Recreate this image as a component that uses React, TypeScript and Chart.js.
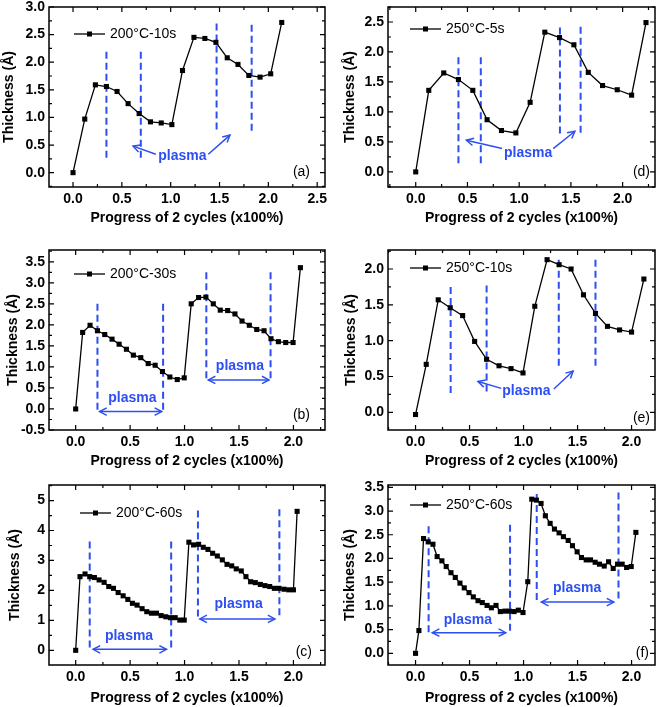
import React, { useEffect, useRef } from 'react';
import { Chart, registerables } from 'chart.js';

Chart.register(...registerables);

const FONT = '"Liberation Sans", Arial, Helvetica, sans-serif';
const BLUE = '#2d4ff2';
const X_TITLE = 'Progress of 2 cycles (x100%)';
const Y_TITLE = 'Thickness (Å)';

// ---------- (a) 200°C-10s ----------
const xA = [0, 0.12, 0.229, 0.342, 0.451, 0.564, 0.677, 0.793, 0.903, 1.012, 1.121, 1.238, 1.35, 1.463, 1.579, 1.689, 1.8, 1.915, 2.024, 2.137];
const yA = [0, 0.97, 1.59, 1.56, 1.47, 1.25, 1.07, 0.92, 0.9, 0.87, 1.85, 2.45, 2.43, 2.36, 2.08, 1.96, 1.76, 1.73, 1.79, 2.72];
const dashXA = [0.342, 0.694, 1.47, 1.829];
const dashTopA = [2.19, 2.19, 2.7, 2.68];
const dashBotA = [0.22, 0.25, 0.73, 0.71];
const arrowsA = [[0.848, 0.333, 0.615, 0.48], [1.385, 0.333, 1.607, 0.68]];
const textA = [[1.12, 0.236]];

// ---------- (b) 200°C-30s ----------
const xB = [0, 0.064, 0.132, 0.2, 0.267, 0.334, 0.399, 0.466, 0.53, 0.598, 0.666, 0.73, 0.797, 0.865, 0.933, 0.997, 1.061, 1.129, 1.196, 1.264, 1.328, 1.396, 1.463, 1.528, 1.595, 1.663, 1.73, 1.794, 1.862, 1.929, 1.997, 2.064];
const yB = [0, 1.82, 1.99, 1.86, 1.77, 1.66, 1.54, 1.42, 1.28, 1.22, 1.08, 1.04, 0.89, 0.76, 0.7, 0.74, 2.5, 2.65, 2.66, 2.5, 2.35, 2.34, 2.26, 2.09, 1.99, 1.89, 1.86, 1.67, 1.6, 1.58, 1.58, 3.36];
const dashXB = [0.2, 0.803, 1.2, 1.79];
const dashTopB = [2.5, 2.5, 3.25, 3.25];
const dashBotB = [-0.08, -0.08, 0.69, 0.69];
const arrowsB = [[0.22, -0.063, 0.79, -0.063], [1.218, 0.69, 1.776, 0.69]];
const textB = [[0.521, 0.158], [1.509, 0.935]];

// ---------- (c) 200°C-60s ----------
const xC = [0, 0.04, 0.086, 0.129, 0.172, 0.215, 0.261, 0.304, 0.347, 0.39, 0.436, 0.479, 0.521, 0.564, 0.61, 0.653, 0.696, 0.742, 0.785, 0.828, 0.871, 0.914, 0.957, 0.997, 1.04, 1.083, 1.129, 1.172, 1.215, 1.258, 1.301, 1.347, 1.39, 1.433, 1.475, 1.521, 1.564, 1.607, 1.65, 1.696, 1.739, 1.782, 1.825, 1.868, 1.914, 1.957, 2.0, 2.034];
const yC = [0, 2.46, 2.55, 2.46, 2.43, 2.35, 2.27, 2.13, 2.07, 1.93, 1.82, 1.7, 1.57, 1.51, 1.39, 1.29, 1.24, 1.24, 1.16, 1.12, 1.09, 1.09, 1.01, 1.01, 3.61, 3.52, 3.54, 3.44, 3.37, 3.24, 3.15, 3.02, 2.87, 2.82, 2.72, 2.65, 2.46, 2.29, 2.26, 2.2, 2.16, 2.13, 2.07, 2.07, 2.04, 2.02, 2.02, 4.64];
const dashXC = [0.129, 0.877, 1.123, 1.871];
const dashTopC = [3.63, 3.63, 4.67, 4.71];
const dashBotC = [0.01, 0.01, 1.07, 1.1];
const arrowsC = [[0.16, 0.033, 0.834, 0.033], [1.14, 1.05, 1.83, 1.05]];
const textC = [[0.49, 0.345], [1.497, 1.425]];

// ---------- (d) 250°C-5s ----------
const xD = [0, 0.126, 0.271, 0.413, 0.552, 0.69, 0.829, 0.968, 1.106, 1.248, 1.39, 1.529, 1.668, 1.806, 1.948, 2.087, 2.226];
const yD = [0, 1.36, 1.65, 1.54, 1.36, 0.87, 0.69, 0.65, 1.16, 2.33, 2.24, 2.12, 1.66, 1.44, 1.37, 1.28, 2.49];
const dashXD = [0.413, 0.629, 1.394, 1.594];
const dashTopD = [1.91, 1.91, 2.41, 2.42];
const dashBotD = [0.1, 0.12, 0.61, 0.61];
const arrowsD = [[0.835, 0.389, 0.49, 0.528], [1.329, 0.389, 1.539, 0.678]];
const textD = [[1.087, 0.25]];

// ---------- (e) 250°C-10s ----------
const xE = [0, 0.099, 0.21, 0.321, 0.436, 0.547, 0.658, 0.773, 0.884, 0.995, 1.104, 1.218, 1.329, 1.44, 1.555, 1.666, 1.777, 1.889, 2.0, 2.114];
const yE = [-0.03, 0.67, 1.57, 1.46, 1.35, 0.99, 0.74, 0.65, 0.61, 0.55, 1.48, 2.13, 2.06, 2.0, 1.64, 1.38, 1.2, 1.15, 1.12, 1.86];
const dashXE = [0.325, 0.658, 1.326, 1.666];
const dashTopE = [1.75, 1.77, 2.13, 2.13];
const dashBotE = [0.24, 0.265, 0.62, 0.62];
const arrowsE = [[0.794, 0.335, 0.578, 0.43], [1.28, 0.326, 1.459, 0.577]];
const textE = [[1.026, 0.242]];

// ---------- (f) 250°C-60s ----------
const xF = [0, 0.031, 0.074, 0.117, 0.161, 0.2, 0.244, 0.284, 0.328, 0.368, 0.411, 0.451, 0.495, 0.535, 0.578, 0.618, 0.662, 0.702, 0.745, 0.785, 0.828, 0.869, 0.912, 0.952, 0.995, 1.039, 1.076, 1.119, 1.162, 1.202, 1.246, 1.286, 1.329, 1.369, 1.413, 1.453, 1.496, 1.536, 1.58, 1.62, 1.663, 1.703, 1.747, 1.787, 1.83, 1.87, 1.913, 1.954, 1.997, 2.04];
const yF = [0, 0.48, 2.42, 2.35, 2.3, 2.04, 1.95, 1.83, 1.7, 1.6, 1.48, 1.38, 1.28, 1.19, 1.11, 1.07, 1.01, 0.96, 1.01, 0.88, 0.89, 0.89, 0.88, 0.91, 0.86, 1.51, 3.25, 3.23, 3.16, 2.9, 2.74, 2.62, 2.54, 2.46, 2.38, 2.27, 2.14, 2.02, 1.97, 1.97, 1.92, 1.88, 1.84, 1.93, 1.79, 1.88, 1.88, 1.81, 1.83, 2.55];
const dashXF = [0.121, 0.875, 1.122, 1.879];
const dashTopF = [2.68, 2.71, 3.36, 3.39];
const dashBotF = [0.4, 0.42, 1.08, 1.1];
const arrowsF = [[0.155, 0.436, 0.835, 0.436], [1.165, 1.08, 1.836, 1.08]];
const textF = [[0.485, 0.611], [1.496, 1.3]];

type PanelCfg = {
  tag: string; legend: string;
  left: number; top: number; w: number; h: number;
  xs: number[]; ys: number[];
  dashX: number[]; dashTop: number[]; dashBot: number[];
  arrows: number[][]; double: boolean; texts: number[][];
  xMin: number; xMax: number; yMin: number; yMax: number; yStep: number; yDec: number;
  yAxisW: number; xAxisH: number; padTop: number; padRight: number;
  yTitlePad: number; xTitlePad: number;
  legendOff: number[]; labelOff: number[];
};

const PANELS: PanelCfg[] = [
  { tag: '(a)', legend: '200°C-10s', left: 0, top: 0, w: 330, h: 235, xs: xA, ys: yA, dashX: dashXA, dashTop: dashTopA, dashBot: dashBotA, arrows: arrowsA, double: false, texts: textA,
    xMin: -0.246, xMax: 2.58, yMin: -0.26, yMax: 3.0, yStep: 0.5, yDec: 1, yAxisW: 49, xAxisH: 48, padTop: 7, padRight: 5, yTitlePad: 1.1, xTitlePad: 8.3, legendOff: [25, 27], labelOff: [15, 15] },
  { tag: '(b)', legend: '200°C-30s', left: 0, top: 235, w: 330, h: 235, xs: xB, ys: yB, dashX: dashXB, dashTop: dashTopB, dashBot: dashBotB, arrows: arrowsB, double: true, texts: textB,
    xMin: -0.245, xMax: 2.29, yMin: -0.5, yMax: 3.78, yStep: 0.5, yDec: 1, yAxisW: 49, xAxisH: 40, padTop: 15, padRight: 5, yTitlePad: 4.9, xTitlePad: 0.6, legendOff: [25, 24], labelOff: [15, 15] },
  { tag: '(c)', legend: '200°C-60s', left: 0, top: 470, w: 330, h: 237, xs: xC, ys: yC, dashX: dashXC, dashTop: dashTopC, dashBot: dashBotC, arrows: arrowsC, double: true, texts: textC,
    xMin: -0.245, xMax: 2.29, yMin: -0.49, yMax: 5.52, yStep: 1, yDec: 0, yAxisW: 49, xAxisH: 42, padTop: 15, padRight: 5, yTitlePad: 7.1, xTitlePad: 0.9, legendOff: [31, 28], labelOff: [13, 13] },
  { tag: '(d)', legend: '250°C-5s', left: 330, top: 0, w: 331, h: 235, xs: xD, ys: yD, dashX: dashXD, dashTop: dashTopD, dashBot: dashBotD, arrows: arrowsD, double: false, texts: textD,
    xMin: -0.268, xMax: 2.313, yMin: -0.252, yMax: 2.75, yStep: 0.5, yDec: 1, yAxisW: 58, xAxisH: 48, padTop: 7, padRight: 6, yTitlePad: 11.9, xTitlePad: 8.3, legendOff: [22, 22], labelOff: [5, 15] },
  { tag: '(e)', legend: '250°C-10s', left: 330, top: 235, w: 331, h: 235, xs: xE, ys: yE, dashX: dashXE, dashTop: dashTopE, dashBot: dashBotE, arrows: arrowsE, double: false, texts: textE,
    xMin: -0.255, xMax: 2.217, yMin: -0.246, yMax: 2.265, yStep: 0.5, yDec: 1, yAxisW: 58, xAxisH: 40, padTop: 15, padRight: 6, yTitlePad: 12.8, xTitlePad: 0, legendOff: [22, 18], labelOff: [5, 12] },
  { tag: '(f)', legend: '250°C-60s', left: 330, top: 470, w: 331, h: 237, xs: xF, ys: yF, dashX: dashXF, dashTop: dashTopF, dashBot: dashBotF, arrows: arrowsF, double: true, texts: textF,
    xMin: -0.255, xMax: 2.217, yMin: -0.246, yMax: 3.549, yStep: 0.5, yDec: 1, yAxisW: 58, xAxisH: 42, padTop: 15, padRight: 6, yTitlePad: 11.9, xTitlePad: 0.9, legendOff: [22, 20], labelOff: [6, 12] },
];

function arrowHead(ctx: CanvasRenderingContext2D, x1: number, y1: number, x2: number, y2: number) {
  const a = Math.atan2(y2 - y1, x2 - x1);
  const len = 8;
  const ang = Math.PI / 6.5;
  ctx.beginPath();
  ctx.moveTo(x2 - len * Math.cos(a - ang), y2 - len * Math.sin(a - ang));
  ctx.lineTo(x2, y2);
  ctx.lineTo(x2 - len * Math.cos(a + ang), y2 - len * Math.sin(a + ang));
  ctx.stroke();
}

function Panel({ p }: { p: PanelCfg }) {
  const ref = useRef<HTMLCanvasElement>(null);
  useEffect(() => {
    const canvas = ref.current!;
    const datasets: any[] = [
      {
        data: p.xs.map((x, i) => ({ x, y: p.ys[i] })),
        borderColor: '#000',
        borderWidth: 1.3,
        pointStyle: 'rect',
        pointRadius: 3.6,
        pointBackgroundColor: '#000',
        pointBorderColor: '#000',
        pointBorderWidth: 0,
        tension: 0,
        order: 0,
      },
    ];
    p.dashX.forEach((x, i) => {
      datasets.push({
        data: [{ x, y: p.dashTop[i] }, { x, y: p.dashBot[i] }],
        borderColor: BLUE,
        borderWidth: 2,
        borderDash: [7, 4],
        pointRadius: 0,
        order: 1,
      });
    });

    const overlay = {
      id: 'overlay',
      afterDatasetsDraw(chart: any) {
        const ctx: CanvasRenderingContext2D = chart.ctx;
        const { left, right, top, bottom } = chart.chartArea;
        const xs = chart.scales.x;
        const ys = chart.scales.y;
        ctx.save();
        // arrows
        ctx.strokeStyle = BLUE;
        ctx.lineWidth = 1.5;
        p.arrows.forEach((a) => {
          const x1 = xs.getPixelForValue(a[0]);
          const y1 = ys.getPixelForValue(a[1]);
          const x2 = xs.getPixelForValue(a[2]);
          const y2 = ys.getPixelForValue(a[3]);
          ctx.beginPath();
          ctx.moveTo(x1, y1);
          ctx.lineTo(x2, y2);
          ctx.stroke();
          arrowHead(ctx, x1, y1, x2, y2);
          if (p.double) arrowHead(ctx, x2, y2, x1, y1);
        });
        ctx.fillStyle = BLUE;
        ctx.font = `bold 14px ${FONT}`;
        ctx.textAlign = 'center';
        ctx.textBaseline = 'alphabetic';
        p.texts.forEach((t) => {
          ctx.fillText('plasma', xs.getPixelForValue(t[0]), ys.getPixelForValue(t[1]));
        });
        // frame
        ctx.strokeStyle = '#000';
        ctx.lineWidth = 1.5;
        ctx.strokeRect(left, top, right - left, bottom - top);
        // ticks
        ctx.lineWidth = 1.2;
        const drawTicks = (scale: any, step: number, horizontal: boolean) => {
          const vals: number[] = scale.ticks.map((t: any) => t.value);
          const minor: number[] = [];
          if (vals.length) {
            for (let v = vals[0] - step / 2; v <= vals[vals.length - 1] + step / 2 + 1e-9; v += step) {
              if (v >= scale.min && v <= scale.max) minor.push(v);
            }
          }
          const draw = (v: number, len: number) => {
            const px = scale.getPixelForValue(v);
            ctx.beginPath();
            if (horizontal) {
              ctx.moveTo(px, bottom); ctx.lineTo(px, bottom - len);
              ctx.moveTo(px, top); ctx.lineTo(px, top + len);
            } else {
              ctx.moveTo(left, px); ctx.lineTo(left + len, px);
              ctx.moveTo(right, px); ctx.lineTo(right - len, px);
            }
            ctx.stroke();
          };
          vals.forEach((v) => draw(v, 5));
          minor.forEach((v) => draw(v, 3));
        };
        drawTicks(xs, 0.5, true);
        drawTicks(ys, p.yStep, false);
        // legend
        const lx = left + p.legendOff[0];
        const ly = top + p.legendOff[1];
        ctx.beginPath();
        ctx.moveTo(lx, ly);
        ctx.lineTo(lx + 31, ly);
        ctx.lineWidth = 1.3;
        ctx.stroke();
        ctx.fillStyle = '#000';
        ctx.fillRect(lx + 15.5 - 2.5, ly - 2.5, 5, 5);
        ctx.font = `14px ${FONT}`;
        ctx.textAlign = 'left';
        ctx.textBaseline = 'middle';
        ctx.fillText(p.legend, lx + 36, ly);
        // panel tag
        ctx.textAlign = 'right';
        ctx.fillText(p.tag, right - p.labelOff[0], bottom - p.labelOff[1]);
        ctx.restore();
      },
    };

    const tickFont = { family: FONT, size: 14, weight: 'bold' as const };
    const chart = new Chart(canvas, {
      type: 'line',
      data: { datasets },
      options: {
        responsive: false,
        animation: false,
        devicePixelRatio: 1,
        events: [],
        layout: { padding: { left: 0, top: p.padTop, right: p.padRight, bottom: 0 } },
        plugins: { legend: { display: false }, tooltip: { enabled: false } },
        scales: {
          x: {
            type: 'linear',
            position: 'bottom',
            min: p.xMin,
            max: p.xMax,
            afterFit: (s: any) => { s.height = p.xAxisH; s.paddingLeft = 0; s.paddingRight = 0; },
            grid: { display: false, drawTicks: false },
            border: { display: false },
            ticks: {
              stepSize: 0.5,
              includeBounds: false,
              autoSkip: false,
              maxRotation: 0,
              padding: 3.5,
              color: '#000',
              font: tickFont,
              callback: (v: any) => Number(v).toFixed(1),
            },
            title: {
              display: true,
              text: X_TITLE,
              color: '#000',
              font: tickFont,
              padding: { top: 0, bottom: p.xTitlePad },
            },
          },
          y: {
            type: 'linear',
            position: 'left',
            min: p.yMin,
            max: p.yMax,
            afterFit: (s: any) => { s.width = p.yAxisW; s.paddingTop = 0; s.paddingBottom = 0; },
            grid: { display: false, drawTicks: false },
            border: { display: false },
            ticks: {
              stepSize: p.yStep,
              includeBounds: false,
              autoSkip: false,
              padding: 4,
              color: '#000',
              font: tickFont,
              callback: (v: any) => Number(v).toFixed(p.yDec),
            },
            title: {
              display: true,
              text: Y_TITLE,
              color: '#000',
              font: tickFont,
              padding: { top: p.yTitlePad, bottom: 0 },
            },
          },
        },
      } as any,
      plugins: [overlay],
    });
    return () => chart.destroy();
  }, [p]);
  return (
    <canvas
      ref={ref}
      width={p.w}
      height={p.h}
      style={{ position: 'absolute', left: p.left, top: p.top, width: p.w, height: p.h }}
    />
  );
}

export default function App() {
  return (
    <div style={{ position: 'absolute', left: 0, top: 0, width: 661, height: 707, background: '#fff', overflow: 'hidden' }}>
      {PANELS.map((p) => (
        <Panel key={p.tag} p={p} />
      ))}
    </div>
  );
}
